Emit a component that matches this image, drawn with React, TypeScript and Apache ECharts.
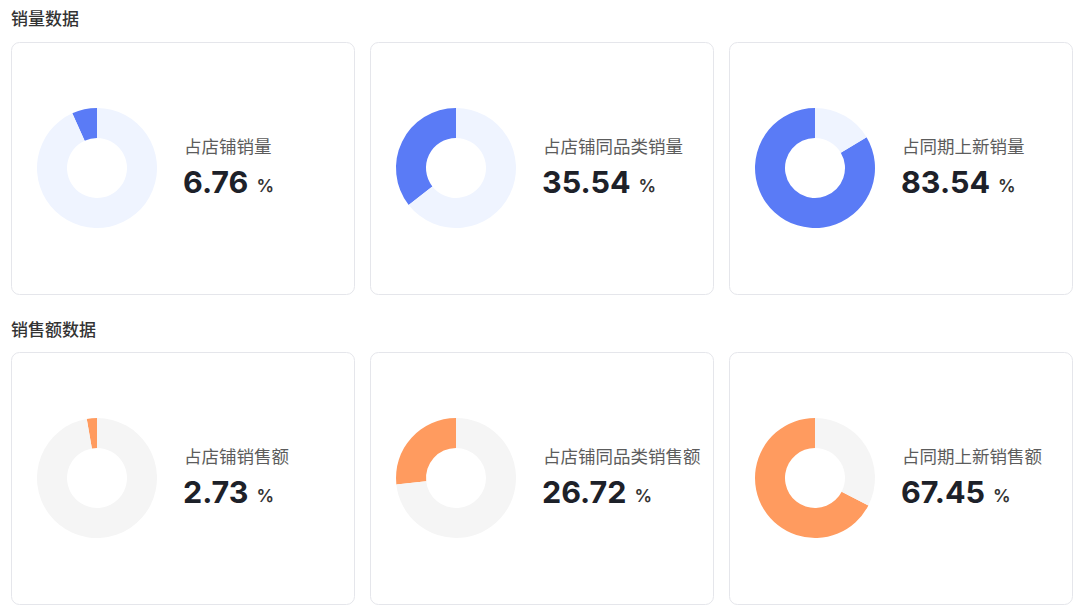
import React, { useEffect, useRef } from "react";
import * as echarts from "echarts";

const sectionTitles = ["销量数据", "销售额数据"];
const volumeLabels = ["占店铺销量", "占店铺同品类销量", "占同期上新销量"];
const volumeValues = [6.76, 35.54, 83.54];
const amountLabels = ["占店铺销售额", "占店铺同品类销售额", "占同期上新销售额"];
const amountValues = [2.73, 26.72, 67.45];

const FONT = "Inter, 'Noto Sans CJK SC', 'Noto Sans', sans-serif";
const BLUE = "#5A7BF6";
const BLUE_BG = "#EFF4FF";
const ORANGE = "#FF9B5F";
const GRAY_BG = "#F5F5F5";

const CARD_LEFTS = [11, 370, 729];
const CARD_W = 343;
const CARD_H = 252;
const ROW_TOPS = [42, 352];
const TITLE_Y = [18, 329];

export default function App() {
  const ref = useRef<HTMLDivElement>(null);
  useEffect(() => {
    if (!ref.current) return;
    const chart = echarts.init(ref.current, undefined, { renderer: "svg" });
    const graphics: any[] = [];
    const series: any[] = [];
    const rows = [
      { labels: volumeLabels, values: volumeValues, color: BLUE, bg: BLUE_BG },
      { labels: amountLabels, values: amountValues, color: ORANGE, bg: GRAY_BG },
    ];
    rows.forEach((row, r) => {
      graphics.push({
        type: "text",
        x: 11,
        y: TITLE_Y[r] + 1,
        style: {
          text: sectionTitles[r],
          fontSize: 17,
          fontWeight: 500,
          fontFamily: FONT,
          fill: "#333333",
          verticalAlign: "middle",
        },
      });
      row.values.forEach((v, c) => {
        const left = CARD_LEFTS[c];
        const top = ROW_TOPS[r];
        graphics.push({
          type: "rect",
          shape: { x: left + 0.5, y: top + 0.5, width: CARD_W, height: CARD_H, r: 8 },
          style: { fill: "#ffffff", stroke: "#E5E6EB", lineWidth: 1 },
          z: -10,
        });
        graphics.push({
          type: "text",
          x: left + 173,
          y: top + 104.5,
          style: {
            text: row.labels[c],
            fontSize: 17.5,
            fontFamily: FONT,
            fill: "#5c5c5c",
            verticalAlign: "middle",
          },
        });
        graphics.push({
          type: "text",
          x: left + 172,
          y: top + 138,
          style: {
            text: `{n|${v.toFixed(2)}}{p|%}`,
            fontFamily: FONT,
            verticalAlign: "middle",
            rich: {
              n: { fontSize: 30.5, fontWeight: 700, fill: "#1d2129", fontFamily: FONT, verticalAlign: "bottom", lineHeight: 34 },
              p: { fontSize: 17.5, fontWeight: 600, fill: "#333333", fontFamily: FONT, verticalAlign: "bottom", lineHeight: 24, padding: [0, 0, 3, 8] },
            },
          },
        });
        series.push({
          type: "pie",
          center: [left + 86, top + 126],
          radius: [30, 60],
          startAngle: 90,
          clockwise: false,
          silent: true,
          label: { show: false },
          labelLine: { show: false },
          emphasis: { disabled: true },
          data: [
            { value: v, itemStyle: { color: row.color } },
            { value: +(100 - v).toFixed(2), itemStyle: { color: row.bg } },
          ],
        });
      });
    });
    chart.setOption({
      animation: false,
      backgroundColor: "#ffffff",
      graphic: { elements: graphics },
      series,
    });
    return () => chart.dispose();
  }, []);
  return (
    <div
      ref={ref}
      style={{ position: "absolute", left: 0, top: 0, width: 1080, height: 616 }}
    />
  );
}
